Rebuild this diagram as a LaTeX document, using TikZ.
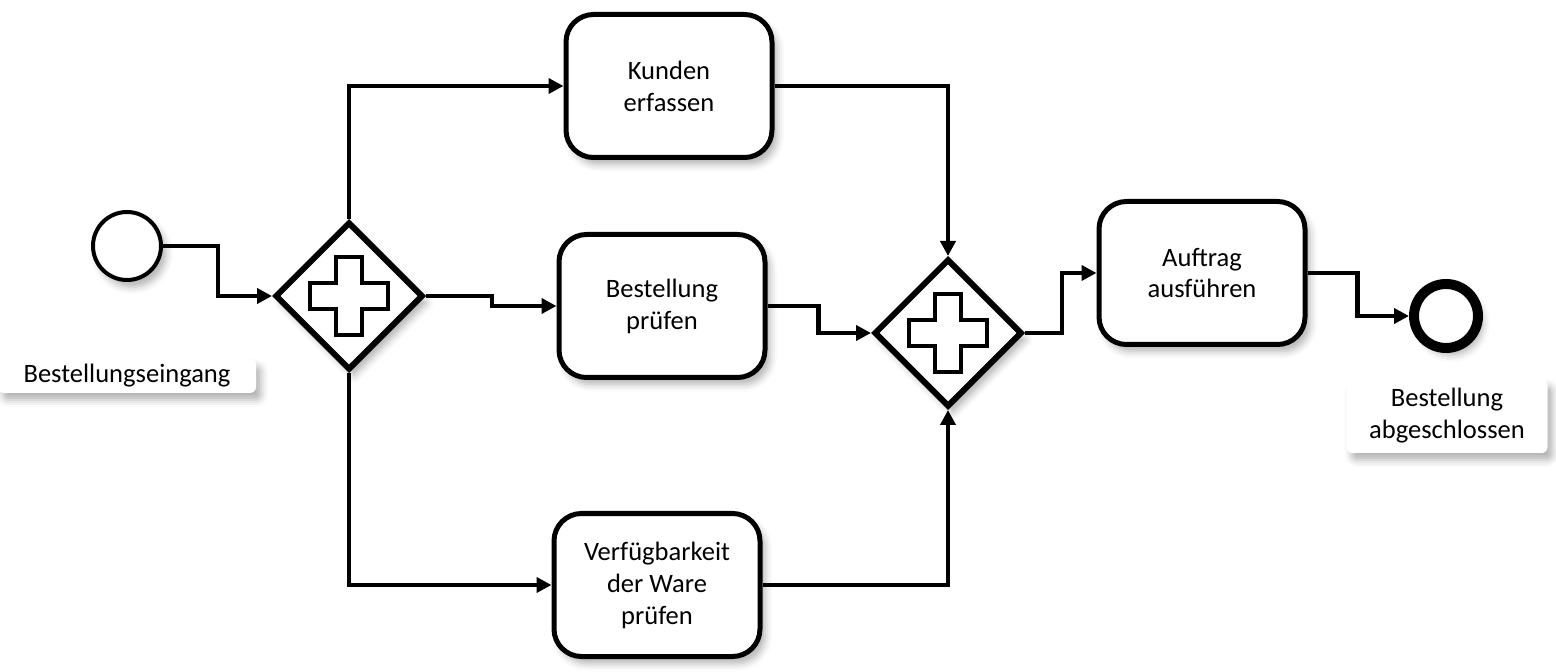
\documentclass[tikz,border=0pt]{standalone}
\usepackage{fontspec}
\setmainfont{Carlito}
\usetikzlibrary{arrows.meta, shapes.geometric, shadows.blur}

\begin{document}
\begin{tikzpicture}[
  soft/.style={blur shadow={shadow xshift=0.1cm, shadow yshift=-0.14cm,
               shadow blur radius=0.14cm, shadow opacity=30}},
  task/.style={rectangle, draw=black, fill=white, rounded corners=0.55cm, line width=0.1cm,
               minimum width=4.12cm, minimum height=2.86cm, align=center, soft},
  gate/.style={diamond, draw=black, fill=white, line width=0.12cm, aspect=1, inner sep=0pt,
               minimum width=2.96cm, minimum height=2.96cm, soft,
               path picture={\draw[line width=0.09cm, fill=white,
                 shift={(path picture bounding box.center)}]
                 (-0.26,0.78) -- (0.26,0.78) -- (0.26,0.26) -- (0.78,0.26) -- (0.78,-0.26)
                 -- (0.26,-0.26) -- (0.26,-0.78) -- (-0.26,-0.78) -- (-0.26,-0.26)
                 -- (-0.78,-0.26) -- (-0.78,0.26) -- (-0.26,0.26) -- cycle;}},
  evstart/.style={circle, draw=black, fill=white, line width=0.08cm,
                  minimum size=1.36cm, inner sep=0pt, soft},
  evend/.style={circle, draw=black, fill=white, line width=0.2cm,
                minimum size=1.28cm, inner sep=0pt, soft},
  lbl/.style={rectangle, fill=white, rounded corners=0.12cm, align=center,
              inner xsep=0.1cm, inner ysep=0.1cm, soft},
  arr/.style={-{Triangle[length=0.3cm, width=0.3cm]}, line width=0.085cm},
  font=\fontsize{15.1}{18.2}\selectfont
]
\useasboundingbox (0,0) rectangle (31.12,13.42);

% ---- Ereignisse und Beschriftungen ----
\node[evstart] (ev-in)  at (2.54, 8.50) {};
\node[lbl, minimum width=5.16cm, minimum height=0.68cm] (lb-in) at (2.54, 5.90) {Bestellungseingang};
\node[evend]   (ev-out) at (28.92, 7.10) {};
\node[lbl, minimum width=4.02cm, minimum height=1.48cm] (lb-out) at (28.94, 5.10) {Bestellung\\abgeschlossen};

% ---- Gateways ----
\node[gate] (gw-fork) at (6.98, 7.50) {};
\node[gate] (gw-join) at (18.96, 6.76) {};

% ---- Aufgaben ----
\node[task] (t-kunde) at (13.38, 11.70) {Kunden\\erfassen};
\node[task] (t-best)  at (13.24, 7.30)  {Bestellung\\prüfen};
\node[task] (t-verf)  at (13.14, 1.72)  {Verfügbarkeit\\der Ware\\prüfen};
\node[task] (t-auftr) at (24.04, 7.96)  {Auftrag\\ausführen};

% ---- Sequenzfluss ----
\draw[arr] (ev-in.east)   -- ++(1.1,0)  |- (gw-fork.west);
\draw[arr] (gw-fork.north) |- (t-kunde.west);
\draw[arr] (gw-fork.east) -- ++(1.32,0) |- (t-best.west);
\draw[arr] (gw-fork.south) |- (t-verf.west);
\draw[arr] (t-kunde.east) -| (gw-join.north);
\draw[arr] (t-best.east)  -- ++(1.02,0) |- (gw-join.west);
\draw[arr] (t-verf.east)  -| (gw-join.south);
\draw[arr] (gw-join.east) -- ++(0.74,0) |- (t-auftr.west);
\draw[arr] (t-auftr.east) -- ++(1.0,0)  |- (ev-out.west);

\end{tikzpicture}
\end{document}
